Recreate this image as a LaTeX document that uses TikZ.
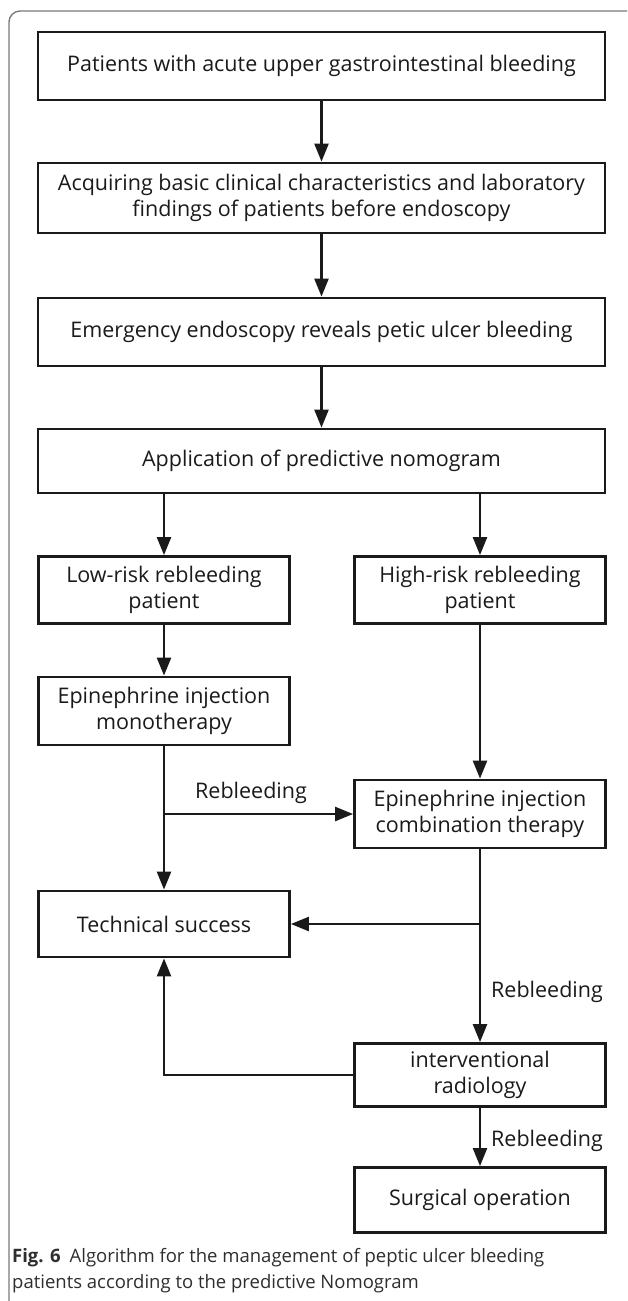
\documentclass[tikz,border=0pt]{standalone}
\usepackage{fontspec}
\setmainfont{Open Sans}
\usetikzlibrary{arrows.meta}
\definecolor{ink}{HTML}{1A1A1A}
\definecolor{framegray}{HTML}{7A7A7A}
\definecolor{captext}{HTML}{2E2E2E}
\begin{document}
\begin{tikzpicture}[x=1pt,y=-1pt,
  box/.style={draw=ink, line width=2.8pt, align=center, text=ink, inner sep=0pt,
    font=\fontsize{21.5}{26.5}\selectfont},
  widebox/.style={box, minimum width=567pt},
  halfbox/.style={box, minimum width=251pt},
  arr/.style={draw=ink, line width=2.4pt, -{Triangle[length=18pt,width=14pt]}},
  lbl/.style={text=ink, inner sep=0pt, font=\fontsize{21.5}{26}\selectfont},
  captxt/.style={text=captext, inner sep=0pt, anchor=west, font=\fontsize{18.5}{26}\selectfont}]
\useasboundingbox (0,0) rectangle (627,1301);
% frame
\draw[framegray, line width=1.4pt, rounded corners=11pt] (9,1301) -- (9,11) -- (627,11);
% boxes
\node[widebox, minimum height=68pt] (b1) at (321.5,66) {Patients with acute upper gastrointestinal bleeding};
\node[widebox, minimum height=70pt] (b2) at (321.5,198) {Acquiring basic clinical characteristics and laboratory\\findings of patients before endoscopy};
\node[widebox, minimum height=68pt] (b3) at (321.5,332) {Emergency endoscopy reveals petic ulcer bleeding};
\node[widebox, minimum height=64pt] (b4) at (321.5,461) {Application of predictive nomogram};
\node[halfbox, minimum height=67pt] (b5) at (164,590) {Low-risk rebleeding\\patient};
\node[halfbox, minimum height=67pt] (b6) at (480,590) {High-risk rebleeding\\patient};
\node[halfbox, minimum height=68pt] (b7) at (164,711) {Epinephrine injection\\monotherapy};
\node[halfbox, minimum height=68pt] (b8) at (480,814) {Epinephrine injection\\combination therapy};
\node[halfbox, minimum height=66pt] (b9) at (164,924) {Technical success};
\node[halfbox, minimum height=63pt] (b10) at (480,1075) {interventional\\radiology};
\node[halfbox, minimum height=65pt] (b11) at (480,1200) {Surgical operation};
% labels
\node[lbl] (r1) at (251,793) {Rebleeding};
\node[lbl, anchor=west] (r2) at (491,992) {Rebleeding};
\node[lbl, anchor=west] (r3) at (491,1141) {Rebleeding};
% junctions
\coordinate (j1) at (b7.south |- b8.west);
\coordinate (j2) at (b8.south |- b9.east);
% connectors
\draw[arr] (b1) -- (b2);
\draw[arr] (b2) -- (b3);
\draw[arr] (b3) -- (b4);
\draw[arr] (b4.south -| b5.north) -- (b5.north);
\draw[arr] (b4.south -| b6.north) -- (b6.north);
\draw[arr] (b5) -- (b7);
\draw[arr] (b6) -- (b8);
\draw[arr] (b7.south) -- (b9.north);
\draw[arr] (j1) -- (b8.west);
\draw[arr] (b8.south) -- (b10.north);
\draw[arr] (j2) -- (b9.east);
\draw[arr] (b10.west) -| (b9.south);
\draw[arr] (b10) -- (b11);
% caption
\node[captxt] (c1) at (12,1258) {\textbf{Fig. 6}\hspace{9pt}Algorithm for the management of peptic ulcer bleeding};
\node[captxt] (c2) at (12,1284) {patients according to the predictive Nomogram};
\end{tikzpicture}
\end{document}
